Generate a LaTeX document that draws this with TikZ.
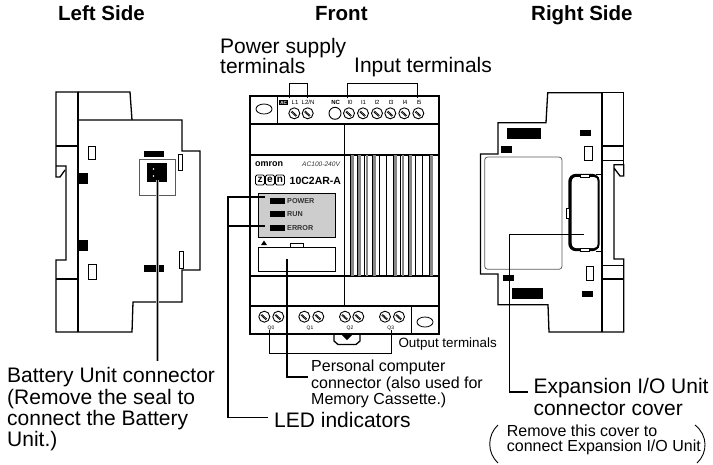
\documentclass[tikz,border=0pt]{standalone}
\usepackage{fontspec}
\setmainfont{Liberation Sans}
\usepackage{xcolor}
\usetikzlibrary{positioning, calc}
\definecolor{panelgray}{RGB}{205, 205, 205}
\definecolor{ventgray}{RGB}{135, 135, 135}
\definecolor{sealgray}{RGB}{90, 90, 90}
\newcommand{\fsize}[1]{\fontsize{#1}{#1}\selectfont}
\tikzset{
  outline/.style={line width=1.3pt, black},
  heavy/.style={line width=1.8pt, black},
  thinline/.style={line width=0.8pt, black},
  blackpad/.style={fill=black, draw=none},
  leader/.style={line width=1pt, black},
  wideleader/.style={line width=3pt, ventgray!70},
  label/.style={anchor=base west, inner sep=0pt},
  biglabel/.style={label, font=\fsize{21}},
  midlabel/.style={label, font=\fsize{16}},
  smalllabel/.style={label, font=\fsize{13.4}},
  heading/.style={label, font=\fsize{20.5}\bfseries},
  termlabel/.style={inner sep=0pt, font=\fsize{6}},
  ledlabel/.style={label, text=black!80, font=\fsize{7.2}\bfseries},
  screw/.style={circle, draw, line width=0.9pt, minimum size=11pt, inner sep=0pt}
}
\begin{document}
\begin{tikzpicture}[x=1pt, y=-1pt]
  \useasboundingbox (0,0) rectangle (713,464);

  % Headings
  \node[heading] (leftside) at (58,20) {Left Side};
  \node[heading] (frontside) at (315,20) {Front};
  \node[heading] (rightside) at (531,20) {Right Side};

  % Left side view
  \draw[outline] (78,120) -- (78,92) -- (56,92) -- (56,177) -- (60,177) -- (65,170);
  \draw[outline] (56,166) -- (66,166) -- (66,260) -- (56,260) -- (56,332) -- (132,332)
    -- (133,302) -- (182,302) -- (182,270) -- (200,270) -- (200,151) -- (182,151)
    -- (182,120) -- (78,120);
  \draw[outline] (78,92) -- (130,92) -- (132,120);
  \draw[outline] (56,146) -- (78,146);
  \draw[outline] (56,279) -- (78,279);
  \draw[heavy] (78,92) -- (78,146);
  \draw[outline] (78,146) -- (78,279);
  \draw[heavy] (78,279) -- (78,332);
  \draw[thinline] (88,146) rectangle (95,159);
  \draw[thinline] (88,264) rectangle (96,279);
  \draw[thinline] (178.5,154) rectangle (182,170);
  \draw[thinline] (179,251) rectangle (183,268);
  \foreach \y in {173,240} \fill[blackpad] (78,\y) rectangle (88,\y+11);
  \fill[blackpad] (144,151) rectangle (164,157);
  \fill[blackpad] (144,265) rectangle (164,272);
  \draw[thinline, sealgray] (139,159) rectangle (175,195);
  \fill[blackpad] (147,163) rectangle (167,182);
  \foreach \y in {169,176} \fill[white] (153.5,\y) circle (0.9);

  % Front view
  \draw[heavy] (250,96) rectangle (439,334);
  \foreach \y in {124,155,276,306} \draw[outline] (250,\y) -- (439,\y);
  \draw[thinline] (277,96) -- (277,124);
  \draw[thinline] (344,124) -- (344,306);
  \draw[thinline] (411,306) -- (411,334);
  \draw[thinline] (264,109) ellipse (8 and 5);
  \draw[thinline] (425,322) ellipse (8 and 5);

  % Vents
  \foreach \x in {350.3,357.5,364.7,371.9,393.5,400.7,407.9,429.5}
    \fill[ventgray] (\x+0.8,155) rectangle (\x+3.6,276);
  \foreach \x in {350.3,357.5,364.7,371.9,379.1,386.3,393.5,400.7,407.9,415.1,422.3,429.5}
    \draw[thinline] (\x,155) -- (\x,276);

  % Top terminals
  \node[inner sep=1pt, fill=black, text=white, font=\fsize{4.5}\bfseries] (acbox) at (283.7,102.7) {AC};
  \node[termlabel] (termla) at (295,102.5) {L1};
  \node[termlabel] (termlb) at (308,102.5) {L2/N};
  \node[termlabel, font=\fsize{6}\bfseries] (termnc) at (335.7,102.5) {NC};
  \foreach \x/\t/\n in {350/I0/ia,363.5/I1/ib,377/I2/ic,391/I3/id,405/I4/ie,419/I5/if}
    \node[termlabel] (term\n) at (\x,102.5) {\t};
  \foreach \x/\n in {294.3/sa,307.7/sb,349/sc,363/sd,377/se,390.3/sf,404.3/sg,418.3/sh} {
    \node[screw] (\n) at (\x,113.3) {};
    \draw[thinline] (\x-2.5,111) -- (\x+2.5,115.6);
    \draw[thinline] (\x-3.3,111.8) -- (\x+1.7,116.4);
  }
  \node[circle, draw, line width=0.9pt, minimum size=12pt, inner sep=0pt] (ncpin) at (335,113.3) {};

  % Bottom terminals
  \foreach \x/\n in {264.3/qa,278.3/qb,304.3/qc,318.3/qd,345/qe,358.3/qf,385/qg,399/qh} {
    \node[screw] (\n) at (\x,316.7) {};
    \draw[thinline] (\x-2.5,314.4) -- (\x+2.5,319);
    \draw[thinline] (\x-3.3,315.2) -- (\x+1.7,319.8);
  }
  \foreach \x/\t in {271/Q0,310/Q1,350/Q2,390.7/Q3}
    \node[termlabel, font=\fsize{5}] (label\t) at (\x,328.5) {\t};

  % Clip under the unit
  \draw[outline] (334,334) -- (334,341) -- (338,344.5) -- (356,344.5) -- (360,341) -- (360,334);
  \fill[blackpad] (341,334) -- (353,334) -- (347,340) -- cycle;

  % Maker text
  \node[label, font=\fsize{9}\bfseries] (maker) at (255,166) {omron};
  \node[label, font=\fsize{6.6}\itshape, text=black!80] (rating) at (302,166) {AC100-240V};
  \foreach \x/\t/\n in {260/z/la,270/e/lb,280/n/lc} {
    \node[draw, thinline, fill=white, rounded corners=1.5pt, minimum width=9pt, minimum height=10pt, inner sep=0pt, font=\fsize{10}\bfseries] (logo\n) at (\x,180) {\t};
  }
  \node[label, font=\fsize{10.5}\bfseries] (model) at (289.5,184.5) {10C2AR-A};

  % LED panel
  \draw[thinline, fill=panelgray] (258,193) rectangle (335,237.7);
  \foreach \y/\t/\n in {200.7/POWER/ledpower,214/RUN/ledrun,227.7/ERROR/lederror} {
    \fill[blackpad] (270,\y-3) rectangle (285,\y+3);
    \node[ledlabel] (\n) at (287,\y+2.5) {\t};
  }

  % Personal computer port
  \fill[blackpad] (261,245) -- (267,245) -- (264,240.5) -- cycle;
  \draw[thinline] (290,243) rectangle (303,247);
  \draw[thinline] (258,247) rectangle (335,271);

  % Right side view
  \draw[outline] (602,92.7) -- (547.7,92.7) -- (546,122.7) -- (498,122.7) -- (498,154)
    -- (480.5,154) -- (480.5,274) -- (498,274) -- (498,304.7) -- (548,304.7)
    -- (549,332) -- (623.7,332) -- (623.7,259) -- (614,259) -- (614,168) -- (620,176)
    -- (623.7,176) -- (623.7,164.7) -- (614,164.7) -- (614,168);
  \draw[outline] (602,92.7) -- (623.7,92.7) -- (623.7,164.7);
  \draw[outline] (602,146) -- (623.7,146);
  \draw[thinline] (602,160) -- (623.7,160);
  \draw[thinline] (602,265) -- (623.7,265);
  \draw[outline] (602,279) -- (623.7,279);
  \draw[heavy] (602,92.7) -- (602,332);
  \fill[blackpad] (507,128) rectangle (541,139);
  \fill[blackpad] (501,146) rectangle (512,152.7);
  \fill[blackpad] (580,130) rectangle (591,136);
  \fill[blackpad] (503,275) rectangle (514,280.7);
  \fill[blackpad] (512,288) rectangle (543,299);
  \fill[blackpad] (582,291) rectangle (593,297);
  \draw[thinline] (584.3,146.7) rectangle (592,160.7);
  \draw[thinline] (586,266) rectangle (593.7,280);
  \draw[thinline, sealgray, rounded corners=3pt] (484.7,157) rectangle (562,269.3);

  % Expansion connector
  \draw[thinline] (596,174) -- (602,174);
  \draw[thinline] (596,251) -- (602,251);
  \draw[line width=3.4pt, rounded corners=6pt] (570,175.5) rectangle (598,249.5);
  \draw[line width=2pt, white, rounded corners=3pt] (573,178) rectangle (596.6,247);
  \draw[thinline] (598.4,177) -- (598.4,248);
  \foreach \y in {174,248} \draw[line width=0.4pt, fill=white] (580,\y) rectangle (589,\y+3);
  \draw[line width=0.4pt, fill=white] (566,207.7) rectangle (569.3,217.7);

  % Leader ends
  \coordinate (sealpin) at (157.5,180);
  \coordinate (sealend) at (157.5,360.7);
  \coordinate (ledtop) at (265,197);
  \coordinate (ledbottom) at (265,226);
  \coordinate (ledturn) at (228,197);
  \coordinate (ledend) at (268,417.3);
  \coordinate (pcport) at (287,259);
  \coordinate (pcend) at (308,376.7);
  \coordinate (pwra) at (289,98);
  \coordinate (pwrb) at (307.7,98);
  \coordinate (pwrtop) at (289,83.7);
  \coordinate (inpa) at (347.7,98);
  \coordinate (inpb) at (417,98);
  \coordinate (inptop) at (347.7,83.7);
  \coordinate (outa) at (269,330);
  \coordinate (outb) at (391.7,330);
  \coordinate (outlow) at (269,353.3);
  \coordinate (covera) at (584,234);
  \coordinate (coverb) at (509.3,234);
  \coordinate (coverend) at (528,391.7);

  % Leaders
  \draw[wideleader] (sealpin) -- (sealend);
  \draw[leader, line width=1.6pt] (sealpin) -- (sealend);
  \draw[leader, line width=1.6pt] (ledtop) -- (ledturn) -- (ledturn |- ledend) -- (ledend);
  \draw[leader, line width=1.6pt] (ledbottom) -- (ledturn |- ledbottom);
  \draw[leader, line width=1.8pt] (pcport) -- (pcport |- pcend) -- (pcend);
  \draw[leader] (pwra) -- (pwrtop) -- (pwrtop -| pwrb) -- (pwrb);
  \draw[leader] (inpa) -- (inptop) -- (inptop -| inpb) -- (inpb);
  \draw[leader] (outa) -- (outlow) -- (outlow -| outb) -- (outb);
  \draw[leader] (covera) -- (coverb);
  \draw[leader, line width=1.6pt] (coverb) -- (coverb |- coverend) -- (coverend);

  % Labels
  \node[biglabel] (powerlabela) at (220,53.3) {Power supply};
  \node[biglabel] (powerlabelb) at (220,73.3) {terminals};
  \node[biglabel] (inputlabel) at (354,72.3) {Input terminals};
  \node[smalllabel] (outputlabel) at (398.3,347.7) {Output terminals};
  \node[midlabel] (pclabela) at (311,371.7) {Personal computer};
  \node[midlabel] (pclabelb) at (311,388) {connector (also used for};
  \node[midlabel] (pclabelc) at (311,404) {Memory Cassette.)};
  \node[biglabel] (ledlabeltext) at (274,427.7) {LED indicators};
  \node[biglabel] (batterya) at (7,382.7) {Battery Unit connector};
  \node[biglabel] (batteryb) at (7,404) {(Remove the seal to};
  \node[biglabel] (batteryc) at (7,425) {connect the Battery};
  \node[biglabel] (batteryd) at (7,446.7) {Unit.)};
  \node[biglabel] (expansiona) at (533.3,393) {Expansion I/O Unit};
  \node[biglabel] (expansionb) at (533.3,415) {connector cover};
  \node[midlabel] (removea) at (506.7,436) {Remove this cover to};
  \node[midlabel] (removeb) at (506.7,451.7) {connect Expansion I/O Unit};

  % Brackets round the note
  \draw[line width=0.9pt] (498,425) .. controls (487,435) and (487,453) .. (498,463);
  \draw[line width=0.9pt] (695,425) .. controls (708,435) and (708,453) .. (697,463);
\end{tikzpicture}
\end{document}
